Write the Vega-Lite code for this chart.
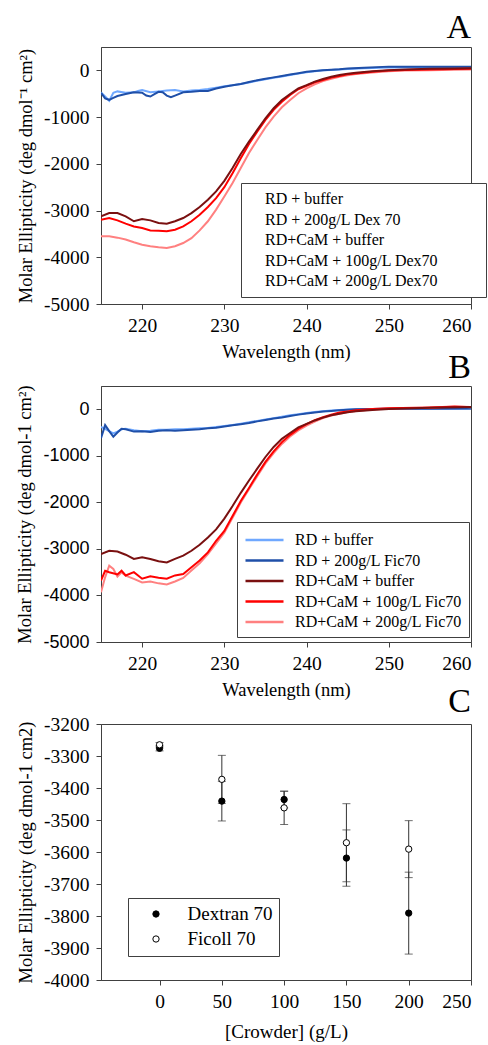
{
  "$schema": "https://vega.github.io/schema/vega-lite/v6.json",
  "background": "white",
  "padding": {"left": 15, "top": 10, "right": 5, "bottom": 2},
  "spacing": 82,
  "bounds": "flush",
  "resolve": {"scale": {"color": "independent", "fill": "independent"}, "legend": {"color": "independent", "fill": "independent"}},
  "config": {
    "view": {"stroke": "#404040", "strokeWidth": 1},
    "font": "Liberation Serif",
    "axis": {"grid": false, "domainColor": "#404040", "tickColor": "#404040", "tickSize": 5, "labelFont": "Liberation Serif", "labelFontSize": 19.5, "labelColor": "#000", "titleFont": "Liberation Serif", "titleFontSize": 18.5, "titleFontWeight": "normal", "titleColor": "#000", "labelPadding": 7, "titlePadding": 8},
    "legend": {"labelFont": "Liberation Serif", "labelColor": "#000", "strokeColor": "#404040", "fillColor": "white", "labelLimit": 500},
    "title": {"font": "Liberation Serif", "fontSize": 34, "fontWeight": "normal", "color": "#000", "anchor": "end", "frame": "group", "offset": 4}
  },
  "datasets": {
    "A": [
      {"w":215,"v":-470,"s":"RD + buffer"},{"w":215.5,"v":-560,"s":"RD + buffer"},{"w":216,"v":-650,"s":"RD + buffer"},{"w":216.5,"v":-480,"s":"RD + buffer"},{"w":217,"v":-450,"s":"RD + buffer"},{"w":218,"v":-480,"s":"RD + buffer"},{"w":219,"v":-470,"s":"RD + buffer"},{"w":219.5,"v":-440,"s":"RD + buffer"},{"w":220,"v":-420,"s":"RD + buffer"},{"w":221,"v":-470,"s":"RD + buffer"},{"w":222,"v":-450,"s":"RD + buffer"},{"w":223,"v":-430,"s":"RD + buffer"},{"w":224,"v":-420,"s":"RD + buffer"},{"w":225,"v":-450,"s":"RD + buffer"},{"w":226,"v":-430,"s":"RD + buffer"},{"w":227,"v":-420,"s":"RD + buffer"},{"w":228,"v":-400,"s":"RD + buffer"},{"w":229,"v":-370,"s":"RD + buffer"},{"w":230,"v":-340,"s":"RD + buffer"},{"w":231,"v":-320,"s":"RD + buffer"},{"w":232,"v":-290,"s":"RD + buffer"},{"w":233,"v":-260,"s":"RD + buffer"},{"w":234,"v":-220,"s":"RD + buffer"},{"w":235,"v":-190,"s":"RD + buffer"},{"w":236,"v":-160,"s":"RD + buffer"},{"w":237,"v":-130,"s":"RD + buffer"},{"w":238,"v":-100,"s":"RD + buffer"},{"w":239,"v":-70,"s":"RD + buffer"},{"w":240,"v":-40,"s":"RD + buffer"},{"w":241,"v":-20,"s":"RD + buffer"},{"w":242,"v":0,"s":"RD + buffer"},{"w":243,"v":10,"s":"RD + buffer"},{"w":244,"v":20,"s":"RD + buffer"},{"w":245,"v":30,"s":"RD + buffer"},{"w":247,"v":45,"s":"RD + buffer"},{"w":250,"v":60,"s":"RD + buffer"},{"w":252,"v":65,"s":"RD + buffer"},{"w":255,"v":60,"s":"RD + buffer"},{"w":258,"v":55,"s":"RD + buffer"},{"w":260,"v":50,"s":"RD + buffer"},
      {"w":215,"v":-480,"s":"RD + 200g/L Dex 70"},{"w":215.5,"v":-600,"s":"RD + 200g/L Dex 70"},{"w":216,"v":-630,"s":"RD + 200g/L Dex 70"},{"w":216.5,"v":-590,"s":"RD + 200g/L Dex 70"},{"w":217,"v":-550,"s":"RD + 200g/L Dex 70"},{"w":218,"v":-505,"s":"RD + 200g/L Dex 70"},{"w":219,"v":-470,"s":"RD + 200g/L Dex 70"},{"w":220,"v":-480,"s":"RD + 200g/L Dex 70"},{"w":220.5,"v":-540,"s":"RD + 200g/L Dex 70"},{"w":221,"v":-560,"s":"RD + 200g/L Dex 70"},{"w":221.5,"v":-510,"s":"RD + 200g/L Dex 70"},{"w":222,"v":-460,"s":"RD + 200g/L Dex 70"},{"w":222.5,"v":-470,"s":"RD + 200g/L Dex 70"},{"w":223,"v":-540,"s":"RD + 200g/L Dex 70"},{"w":223.5,"v":-575,"s":"RD + 200g/L Dex 70"},{"w":224,"v":-540,"s":"RD + 200g/L Dex 70"},{"w":225,"v":-470,"s":"RD + 200g/L Dex 70"},{"w":226,"v":-460,"s":"RD + 200g/L Dex 70"},{"w":227,"v":-440,"s":"RD + 200g/L Dex 70"},{"w":228,"v":-440,"s":"RD + 200g/L Dex 70"},{"w":229,"v":-390,"s":"RD + 200g/L Dex 70"},{"w":230,"v":-350,"s":"RD + 200g/L Dex 70"},{"w":231,"v":-320,"s":"RD + 200g/L Dex 70"},{"w":232,"v":-290,"s":"RD + 200g/L Dex 70"},{"w":233,"v":-250,"s":"RD + 200g/L Dex 70"},{"w":234,"v":-210,"s":"RD + 200g/L Dex 70"},{"w":235,"v":-180,"s":"RD + 200g/L Dex 70"},{"w":236,"v":-150,"s":"RD + 200g/L Dex 70"},{"w":237,"v":-120,"s":"RD + 200g/L Dex 70"},{"w":238,"v":-90,"s":"RD + 200g/L Dex 70"},{"w":239,"v":-60,"s":"RD + 200g/L Dex 70"},{"w":240,"v":-30,"s":"RD + 200g/L Dex 70"},{"w":241,"v":-15,"s":"RD + 200g/L Dex 70"},{"w":242,"v":0,"s":"RD + 200g/L Dex 70"},{"w":243,"v":15,"s":"RD + 200g/L Dex 70"},{"w":244,"v":25,"s":"RD + 200g/L Dex 70"},{"w":245,"v":40,"s":"RD + 200g/L Dex 70"},{"w":247,"v":55,"s":"RD + 200g/L Dex 70"},{"w":250,"v":80,"s":"RD + 200g/L Dex 70"},{"w":252,"v":80,"s":"RD + 200g/L Dex 70"},{"w":255,"v":75,"s":"RD + 200g/L Dex 70"},{"w":258,"v":75,"s":"RD + 200g/L Dex 70"},{"w":260,"v":75,"s":"RD + 200g/L Dex 70"},
      {"w":215,"v":-3550,"s":"RD+CaM + 200g/L Dex70"},{"w":216,"v":-3550,"s":"RD+CaM + 200g/L Dex70"},{"w":217,"v":-3580,"s":"RD+CaM + 200g/L Dex70"},{"w":218,"v":-3620,"s":"RD+CaM + 200g/L Dex70"},{"w":219,"v":-3680,"s":"RD+CaM + 200g/L Dex70"},{"w":220,"v":-3730,"s":"RD+CaM + 200g/L Dex70"},{"w":221,"v":-3765,"s":"RD+CaM + 200g/L Dex70"},{"w":222,"v":-3785,"s":"RD+CaM + 200g/L Dex70"},{"w":223,"v":-3800,"s":"RD+CaM + 200g/L Dex70"},{"w":224,"v":-3765,"s":"RD+CaM + 200g/L Dex70"},{"w":225,"v":-3695,"s":"RD+CaM + 200g/L Dex70"},{"w":226,"v":-3590,"s":"RD+CaM + 200g/L Dex70"},{"w":227,"v":-3425,"s":"RD+CaM + 200g/L Dex70"},{"w":228,"v":-3230,"s":"RD+CaM + 200g/L Dex70"},{"w":229,"v":-2980,"s":"RD+CaM + 200g/L Dex70"},{"w":230,"v":-2700,"s":"RD+CaM + 200g/L Dex70"},{"w":231,"v":-2410,"s":"RD+CaM + 200g/L Dex70"},{"w":232,"v":-2090,"s":"RD+CaM + 200g/L Dex70"},{"w":233,"v":-1770,"s":"RD+CaM + 200g/L Dex70"},{"w":234,"v":-1490,"s":"RD+CaM + 200g/L Dex70"},{"w":235,"v":-1220,"s":"RD+CaM + 200g/L Dex70"},{"w":236,"v":-990,"s":"RD+CaM + 200g/L Dex70"},{"w":237,"v":-790,"s":"RD+CaM + 200g/L Dex70"},{"w":238,"v":-635,"s":"RD+CaM + 200g/L Dex70"},{"w":239,"v":-490,"s":"RD+CaM + 200g/L Dex70"},{"w":240,"v":-385,"s":"RD+CaM + 200g/L Dex70"},{"w":241,"v":-300,"s":"RD+CaM + 200g/L Dex70"},{"w":242,"v":-230,"s":"RD+CaM + 200g/L Dex70"},{"w":243,"v":-180,"s":"RD+CaM + 200g/L Dex70"},{"w":244,"v":-135,"s":"RD+CaM + 200g/L Dex70"},{"w":245,"v":-105,"s":"RD+CaM + 200g/L Dex70"},{"w":246,"v":-80,"s":"RD+CaM + 200g/L Dex70"},{"w":248,"v":-45,"s":"RD+CaM + 200g/L Dex70"},{"w":250,"v":-20,"s":"RD+CaM + 200g/L Dex70"},{"w":252,"v":-5,"s":"RD+CaM + 200g/L Dex70"},{"w":255,"v":5,"s":"RD+CaM + 200g/L Dex70"},{"w":258,"v":15,"s":"RD+CaM + 200g/L Dex70"},{"w":260,"v":20,"s":"RD+CaM + 200g/L Dex70"},
      {"w":215,"v":-3195,"s":"RD+CaM + 100g/L Dex70"},{"w":216,"v":-3160,"s":"RD+CaM + 100g/L Dex70"},{"w":217,"v":-3210,"s":"RD+CaM + 100g/L Dex70"},{"w":218,"v":-3280,"s":"RD+CaM + 100g/L Dex70"},{"w":219,"v":-3340,"s":"RD+CaM + 100g/L Dex70"},{"w":220,"v":-3375,"s":"RD+CaM + 100g/L Dex70"},{"w":221,"v":-3425,"s":"RD+CaM + 100g/L Dex70"},{"w":222,"v":-3430,"s":"RD+CaM + 100g/L Dex70"},{"w":223,"v":-3445,"s":"RD+CaM + 100g/L Dex70"},{"w":224,"v":-3410,"s":"RD+CaM + 100g/L Dex70"},{"w":225,"v":-3340,"s":"RD+CaM + 100g/L Dex70"},{"w":226,"v":-3230,"s":"RD+CaM + 100g/L Dex70"},{"w":227,"v":-3090,"s":"RD+CaM + 100g/L Dex70"},{"w":228,"v":-2925,"s":"RD+CaM + 100g/L Dex70"},{"w":229,"v":-2735,"s":"RD+CaM + 100g/L Dex70"},{"w":230,"v":-2500,"s":"RD+CaM + 100g/L Dex70"},{"w":231,"v":-2200,"s":"RD+CaM + 100g/L Dex70"},{"w":232,"v":-1880,"s":"RD+CaM + 100g/L Dex70"},{"w":233,"v":-1575,"s":"RD+CaM + 100g/L Dex70"},{"w":234,"v":-1310,"s":"RD+CaM + 100g/L Dex70"},{"w":235,"v":-1060,"s":"RD+CaM + 100g/L Dex70"},{"w":236,"v":-845,"s":"RD+CaM + 100g/L Dex70"},{"w":237,"v":-670,"s":"RD+CaM + 100g/L Dex70"},{"w":238,"v":-525,"s":"RD+CaM + 100g/L Dex70"},{"w":239,"v":-405,"s":"RD+CaM + 100g/L Dex70"},{"w":240,"v":-330,"s":"RD+CaM + 100g/L Dex70"},{"w":241,"v":-255,"s":"RD+CaM + 100g/L Dex70"},{"w":242,"v":-205,"s":"RD+CaM + 100g/L Dex70"},{"w":243,"v":-155,"s":"RD+CaM + 100g/L Dex70"},{"w":244,"v":-120,"s":"RD+CaM + 100g/L Dex70"},{"w":245,"v":-85,"s":"RD+CaM + 100g/L Dex70"},{"w":246,"v":-65,"s":"RD+CaM + 100g/L Dex70"},{"w":248,"v":-30,"s":"RD+CaM + 100g/L Dex70"},{"w":250,"v":-5,"s":"RD+CaM + 100g/L Dex70"},{"w":252,"v":10,"s":"RD+CaM + 100g/L Dex70"},{"w":255,"v":20,"s":"RD+CaM + 100g/L Dex70"},{"w":258,"v":30,"s":"RD+CaM + 100g/L Dex70"},{"w":260,"v":35,"s":"RD+CaM + 100g/L Dex70"},
      {"w":215,"v":-3125,"s":"RD+CaM + buffer"},{"w":216,"v":-3055,"s":"RD+CaM + buffer"},{"w":217,"v":-3055,"s":"RD+CaM + buffer"},{"w":218,"v":-3125,"s":"RD+CaM + buffer"},{"w":219,"v":-3230,"s":"RD+CaM + buffer"},{"w":220,"v":-3180,"s":"RD+CaM + buffer"},{"w":221,"v":-3210,"s":"RD+CaM + buffer"},{"w":222,"v":-3265,"s":"RD+CaM + buffer"},{"w":223,"v":-3280,"s":"RD+CaM + buffer"},{"w":224,"v":-3230,"s":"RD+CaM + buffer"},{"w":225,"v":-3160,"s":"RD+CaM + buffer"},{"w":226,"v":-3055,"s":"RD+CaM + buffer"},{"w":227,"v":-2925,"s":"RD+CaM + buffer"},{"w":228,"v":-2770,"s":"RD+CaM + buffer"},{"w":229,"v":-2590,"s":"RD+CaM + buffer"},{"w":230,"v":-2365,"s":"RD+CaM + buffer"},{"w":231,"v":-2090,"s":"RD+CaM + buffer"},{"w":232,"v":-1790,"s":"RD+CaM + buffer"},{"w":233,"v":-1525,"s":"RD+CaM + buffer"},{"w":234,"v":-1275,"s":"RD+CaM + buffer"},{"w":235,"v":-1025,"s":"RD+CaM + buffer"},{"w":236,"v":-810,"s":"RD+CaM + buffer"},{"w":237,"v":-635,"s":"RD+CaM + buffer"},{"w":238,"v":-505,"s":"RD+CaM + buffer"},{"w":239,"v":-385,"s":"RD+CaM + buffer"},{"w":240,"v":-315,"s":"RD+CaM + buffer"},{"w":241,"v":-240,"s":"RD+CaM + buffer"},{"w":242,"v":-185,"s":"RD+CaM + buffer"},{"w":243,"v":-135,"s":"RD+CaM + buffer"},{"w":244,"v":-100,"s":"RD+CaM + buffer"},{"w":245,"v":-70,"s":"RD+CaM + buffer"},{"w":246,"v":-50,"s":"RD+CaM + buffer"},{"w":248,"v":-20,"s":"RD+CaM + buffer"},{"w":250,"v":5,"s":"RD+CaM + buffer"},{"w":252,"v":20,"s":"RD+CaM + buffer"},{"w":255,"v":35,"s":"RD+CaM + buffer"},{"w":258,"v":40,"s":"RD+CaM + buffer"},{"w":260,"v":45,"s":"RD+CaM + buffer"}
    ],
    "B": [
      {"w":215,"v":-380,"s":"RD + buffer"},{"w":215.5,"v":-420,"s":"RD + buffer"},{"w":216,"v":-470,"s":"RD + buffer"},{"w":216.5,"v":-520,"s":"RD + buffer"},{"w":217,"v":-480,"s":"RD + buffer"},{"w":217.5,"v":-430,"s":"RD + buffer"},{"w":218,"v":-420,"s":"RD + buffer"},{"w":219,"v":-450,"s":"RD + buffer"},{"w":220,"v":-470,"s":"RD + buffer"},{"w":221,"v":-460,"s":"RD + buffer"},{"w":222,"v":-440,"s":"RD + buffer"},{"w":223,"v":-440,"s":"RD + buffer"},{"w":224,"v":-430,"s":"RD + buffer"},{"w":225,"v":-430,"s":"RD + buffer"},{"w":226,"v":-420,"s":"RD + buffer"},{"w":227,"v":-410,"s":"RD + buffer"},{"w":228,"v":-400,"s":"RD + buffer"},{"w":229,"v":-380,"s":"RD + buffer"},{"w":230,"v":-360,"s":"RD + buffer"},{"w":231,"v":-340,"s":"RD + buffer"},{"w":232,"v":-310,"s":"RD + buffer"},{"w":233,"v":-280,"s":"RD + buffer"},{"w":234,"v":-250,"s":"RD + buffer"},{"w":235,"v":-220,"s":"RD + buffer"},{"w":236,"v":-190,"s":"RD + buffer"},{"w":237,"v":-160,"s":"RD + buffer"},{"w":238,"v":-130,"s":"RD + buffer"},{"w":239,"v":-105,"s":"RD + buffer"},{"w":240,"v":-80,"s":"RD + buffer"},{"w":241,"v":-60,"s":"RD + buffer"},{"w":242,"v":-40,"s":"RD + buffer"},{"w":243,"v":-25,"s":"RD + buffer"},{"w":244,"v":-15,"s":"RD + buffer"},{"w":245,"v":-5,"s":"RD + buffer"},{"w":246,"v":0,"s":"RD + buffer"},{"w":248,"v":5,"s":"RD + buffer"},{"w":250,"v":10,"s":"RD + buffer"},{"w":255,"v":10,"s":"RD + buffer"},{"w":260,"v":10,"s":"RD + buffer"},
      {"w":215,"v":-620,"s":"RD + 200g/L Fic70"},{"w":215.5,"v":-340,"s":"RD + 200g/L Fic70"},{"w":216,"v":-470,"s":"RD + 200g/L Fic70"},{"w":216.5,"v":-590,"s":"RD + 200g/L Fic70"},{"w":217,"v":-500,"s":"RD + 200g/L Fic70"},{"w":217.5,"v":-420,"s":"RD + 200g/L Fic70"},{"w":218,"v":-430,"s":"RD + 200g/L Fic70"},{"w":219,"v":-480,"s":"RD + 200g/L Fic70"},{"w":220,"v":-470,"s":"RD + 200g/L Fic70"},{"w":221,"v":-490,"s":"RD + 200g/L Fic70"},{"w":222,"v":-460,"s":"RD + 200g/L Fic70"},{"w":223,"v":-450,"s":"RD + 200g/L Fic70"},{"w":224,"v":-460,"s":"RD + 200g/L Fic70"},{"w":225,"v":-450,"s":"RD + 200g/L Fic70"},{"w":226,"v":-440,"s":"RD + 200g/L Fic70"},{"w":227,"v":-430,"s":"RD + 200g/L Fic70"},{"w":228,"v":-410,"s":"RD + 200g/L Fic70"},{"w":229,"v":-395,"s":"RD + 200g/L Fic70"},{"w":230,"v":-370,"s":"RD + 200g/L Fic70"},{"w":231,"v":-345,"s":"RD + 200g/L Fic70"},{"w":232,"v":-320,"s":"RD + 200g/L Fic70"},{"w":233,"v":-295,"s":"RD + 200g/L Fic70"},{"w":234,"v":-260,"s":"RD + 200g/L Fic70"},{"w":235,"v":-230,"s":"RD + 200g/L Fic70"},{"w":236,"v":-200,"s":"RD + 200g/L Fic70"},{"w":237,"v":-175,"s":"RD + 200g/L Fic70"},{"w":238,"v":-145,"s":"RD + 200g/L Fic70"},{"w":239,"v":-115,"s":"RD + 200g/L Fic70"},{"w":240,"v":-90,"s":"RD + 200g/L Fic70"},{"w":241,"v":-70,"s":"RD + 200g/L Fic70"},{"w":242,"v":-50,"s":"RD + 200g/L Fic70"},{"w":243,"v":-35,"s":"RD + 200g/L Fic70"},{"w":244,"v":-20,"s":"RD + 200g/L Fic70"},{"w":245,"v":-10,"s":"RD + 200g/L Fic70"},{"w":246,"v":0,"s":"RD + 200g/L Fic70"},{"w":248,"v":5,"s":"RD + 200g/L Fic70"},{"w":250,"v":10,"s":"RD + 200g/L Fic70"},{"w":255,"v":10,"s":"RD + 200g/L Fic70"},{"w":260,"v":15,"s":"RD + 200g/L Fic70"},
      {"w":215,"v":-3930,"s":"RD+CaM + 200g/L Fic70"},{"w":215.5,"v":-3610,"s":"RD+CaM + 200g/L Fic70"},{"w":216,"v":-3360,"s":"RD+CaM + 200g/L Fic70"},{"w":216.5,"v":-3430,"s":"RD+CaM + 200g/L Fic70"},{"w":217,"v":-3595,"s":"RD+CaM + 200g/L Fic70"},{"w":217.5,"v":-3505,"s":"RD+CaM + 200g/L Fic70"},{"w":218,"v":-3575,"s":"RD+CaM + 200g/L Fic70"},{"w":219,"v":-3645,"s":"RD+CaM + 200g/L Fic70"},{"w":220,"v":-3720,"s":"RD+CaM + 200g/L Fic70"},{"w":221,"v":-3700,"s":"RD+CaM + 200g/L Fic70"},{"w":222,"v":-3740,"s":"RD+CaM + 200g/L Fic70"},{"w":223,"v":-3765,"s":"RD+CaM + 200g/L Fic70"},{"w":224,"v":-3700,"s":"RD+CaM + 200g/L Fic70"},{"w":225,"v":-3625,"s":"RD+CaM + 200g/L Fic70"},{"w":226,"v":-3465,"s":"RD+CaM + 200g/L Fic70"},{"w":227,"v":-3310,"s":"RD+CaM + 200g/L Fic70"},{"w":228,"v":-3110,"s":"RD+CaM + 200g/L Fic70"},{"w":229,"v":-2880,"s":"RD+CaM + 200g/L Fic70"},{"w":230,"v":-2650,"s":"RD+CaM + 200g/L Fic70"},{"w":231,"v":-2330,"s":"RD+CaM + 200g/L Fic70"},{"w":232,"v":-2005,"s":"RD+CaM + 200g/L Fic70"},{"w":233,"v":-1720,"s":"RD+CaM + 200g/L Fic70"},{"w":234,"v":-1440,"s":"RD+CaM + 200g/L Fic70"},{"w":235,"v":-1165,"s":"RD+CaM + 200g/L Fic70"},{"w":236,"v":-940,"s":"RD+CaM + 200g/L Fic70"},{"w":237,"v":-745,"s":"RD+CaM + 200g/L Fic70"},{"w":238,"v":-585,"s":"RD+CaM + 200g/L Fic70"},{"w":239,"v":-455,"s":"RD+CaM + 200g/L Fic70"},{"w":240,"v":-350,"s":"RD+CaM + 200g/L Fic70"},{"w":241,"v":-265,"s":"RD+CaM + 200g/L Fic70"},{"w":242,"v":-190,"s":"RD+CaM + 200g/L Fic70"},{"w":243,"v":-135,"s":"RD+CaM + 200g/L Fic70"},{"w":244,"v":-95,"s":"RD+CaM + 200g/L Fic70"},{"w":245,"v":-60,"s":"RD+CaM + 200g/L Fic70"},{"w":246,"v":-35,"s":"RD+CaM + 200g/L Fic70"},{"w":248,"v":-5,"s":"RD+CaM + 200g/L Fic70"},{"w":250,"v":15,"s":"RD+CaM + 200g/L Fic70"},{"w":255,"v":35,"s":"RD+CaM + 200g/L Fic70"},{"w":258,"v":65,"s":"RD+CaM + 200g/L Fic70"},{"w":260,"v":45,"s":"RD+CaM + 200g/L Fic70"},
      {"w":215,"v":-3680,"s":"RD+CaM + 100g/L Fic70"},{"w":215.5,"v":-3470,"s":"RD+CaM + 100g/L Fic70"},{"w":216,"v":-3500,"s":"RD+CaM + 100g/L Fic70"},{"w":217,"v":-3550,"s":"RD+CaM + 100g/L Fic70"},{"w":217.5,"v":-3470,"s":"RD+CaM + 100g/L Fic70"},{"w":218,"v":-3570,"s":"RD+CaM + 100g/L Fic70"},{"w":219,"v":-3500,"s":"RD+CaM + 100g/L Fic70"},{"w":220,"v":-3640,"s":"RD+CaM + 100g/L Fic70"},{"w":221,"v":-3590,"s":"RD+CaM + 100g/L Fic70"},{"w":222,"v":-3620,"s":"RD+CaM + 100g/L Fic70"},{"w":223,"v":-3640,"s":"RD+CaM + 100g/L Fic70"},{"w":224,"v":-3570,"s":"RD+CaM + 100g/L Fic70"},{"w":225,"v":-3540,"s":"RD+CaM + 100g/L Fic70"},{"w":226,"v":-3395,"s":"RD+CaM + 100g/L Fic70"},{"w":227,"v":-3250,"s":"RD+CaM + 100g/L Fic70"},{"w":228,"v":-3075,"s":"RD+CaM + 100g/L Fic70"},{"w":229,"v":-2825,"s":"RD+CaM + 100g/L Fic70"},{"w":230,"v":-2615,"s":"RD+CaM + 100g/L Fic70"},{"w":231,"v":-2295,"s":"RD+CaM + 100g/L Fic70"},{"w":232,"v":-1970,"s":"RD+CaM + 100g/L Fic70"},{"w":233,"v":-1690,"s":"RD+CaM + 100g/L Fic70"},{"w":234,"v":-1400,"s":"RD+CaM + 100g/L Fic70"},{"w":235,"v":-1130,"s":"RD+CaM + 100g/L Fic70"},{"w":236,"v":-905,"s":"RD+CaM + 100g/L Fic70"},{"w":237,"v":-705,"s":"RD+CaM + 100g/L Fic70"},{"w":238,"v":-550,"s":"RD+CaM + 100g/L Fic70"},{"w":239,"v":-420,"s":"RD+CaM + 100g/L Fic70"},{"w":240,"v":-320,"s":"RD+CaM + 100g/L Fic70"},{"w":241,"v":-235,"s":"RD+CaM + 100g/L Fic70"},{"w":242,"v":-170,"s":"RD+CaM + 100g/L Fic70"},{"w":243,"v":-115,"s":"RD+CaM + 100g/L Fic70"},{"w":244,"v":-70,"s":"RD+CaM + 100g/L Fic70"},{"w":245,"v":-45,"s":"RD+CaM + 100g/L Fic70"},{"w":246,"v":-20,"s":"RD+CaM + 100g/L Fic70"},{"w":248,"v":5,"s":"RD+CaM + 100g/L Fic70"},{"w":250,"v":20,"s":"RD+CaM + 100g/L Fic70"},{"w":255,"v":40,"s":"RD+CaM + 100g/L Fic70"},{"w":258,"v":55,"s":"RD+CaM + 100g/L Fic70"},{"w":260,"v":50,"s":"RD+CaM + 100g/L Fic70"},
      {"w":215,"v":-3110,"s":"RD+CaM + buffer"},{"w":216,"v":-3040,"s":"RD+CaM + buffer"},{"w":217,"v":-3055,"s":"RD+CaM + buffer"},{"w":218,"v":-3125,"s":"RD+CaM + buffer"},{"w":219,"v":-3215,"s":"RD+CaM + buffer"},{"w":220,"v":-3180,"s":"RD+CaM + buffer"},{"w":221,"v":-3215,"s":"RD+CaM + buffer"},{"w":222,"v":-3265,"s":"RD+CaM + buffer"},{"w":223,"v":-3290,"s":"RD+CaM + buffer"},{"w":224,"v":-3215,"s":"RD+CaM + buffer"},{"w":225,"v":-3145,"s":"RD+CaM + buffer"},{"w":226,"v":-3040,"s":"RD+CaM + buffer"},{"w":227,"v":-2910,"s":"RD+CaM + buffer"},{"w":228,"v":-2755,"s":"RD+CaM + buffer"},{"w":229,"v":-2580,"s":"RD+CaM + buffer"},{"w":230,"v":-2350,"s":"RD+CaM + buffer"},{"w":231,"v":-2080,"s":"RD+CaM + buffer"},{"w":232,"v":-1795,"s":"RD+CaM + buffer"},{"w":233,"v":-1530,"s":"RD+CaM + buffer"},{"w":234,"v":-1275,"s":"RD+CaM + buffer"},{"w":235,"v":-1025,"s":"RD+CaM + buffer"},{"w":236,"v":-810,"s":"RD+CaM + buffer"},{"w":237,"v":-635,"s":"RD+CaM + buffer"},{"w":238,"v":-510,"s":"RD+CaM + buffer"},{"w":239,"v":-390,"s":"RD+CaM + buffer"},{"w":240,"v":-315,"s":"RD+CaM + buffer"},{"w":241,"v":-240,"s":"RD+CaM + buffer"},{"w":242,"v":-180,"s":"RD+CaM + buffer"},{"w":243,"v":-130,"s":"RD+CaM + buffer"},{"w":244,"v":-95,"s":"RD+CaM + buffer"},{"w":245,"v":-65,"s":"RD+CaM + buffer"},{"w":246,"v":-45,"s":"RD+CaM + buffer"},{"w":248,"v":-15,"s":"RD+CaM + buffer"},{"w":250,"v":5,"s":"RD+CaM + buffer"},{"w":255,"v":35,"s":"RD+CaM + buffer"},{"w":260,"v":50,"s":"RD+CaM + buffer"}
    ],
    "C": [
      {"x":0,"s":"Dextran 70","v":-3276,"lo":-3284,"hi":-3268},
      {"x":50,"s":"Dextran 70","v":-3441,"lo":-3503,"hi":-3379},
      {"x":100,"s":"Dextran 70","v":-3436,"lo":-3462,"hi":-3410},
      {"x":150,"s":"Dextran 70","v":-3619,"lo":-3707,"hi":-3531},
      {"x":200,"s":"Dextran 70","v":-3791,"lo":-3919,"hi":-3663},
      {"x":0,"s":"Ficoll 70","v":-3265,"lo":-3272,"hi":-3258},
      {"x":50,"s":"Ficoll 70","v":-3373,"lo":-3448,"hi":-3298},
      {"x":100,"s":"Ficoll 70","v":-3462,"lo":-3514,"hi":-3410},
      {"x":150,"s":"Ficoll 70","v":-3571,"lo":-3693,"hi":-3449},
      {"x":200,"s":"Ficoll 70","v":-3591,"lo":-3680,"hi":-3502}
    ]
  },
  "vconcat": [
    {
      "width": 370, "height": 257,
      "title": {"text": "A", "offset": 2},
      "data": {"name": "A"},
      "mark": {"type": "line", "strokeWidth": 2, "clip": true},
      "encoding": {
        "x": {"field": "w", "type": "quantitative", "scale": {"domain": [215, 260], "nice": false, "zero": false}, "axis": {"values": [220, 230, 240, 250, 260], "title": "Wavelength (nm)"}},
        "y": {"field": "v", "type": "quantitative", "scale": {"domain": [-5000, 500], "nice": false}, "axis": {"values": [0, -1000, -2000, -3000, -4000, -5000], "labelExpr": "'' + datum.value", "title": "Molar Ellipticity (deg dmol⁻¹ cm²)"}},
        "color": {"field": "s", "type": "nominal",
          "scale": {"domain": ["RD + buffer", "RD + 200g/L Dex 70", "RD+CaM + buffer", "RD+CaM + 100g/L Dex70", "RD+CaM + 200g/L Dex70"], "range": ["#6fa8ff", "#1f4fa8", "#7a1010", "#ff0000", "#ff8080"]},
          "legend": {"title": null, "orient": "none", "legendX": 140, "legendY": 136, "symbolType": "M0,0H221", "symbolSize": 4, "symbolOpacity": 0, "symbolStrokeWidth": 1, "symbolOffset": 0, "labelOffset": 0, "labelFontSize": 16, "rowPadding": 4.5, "padding": 8}
        }
      }
    },
    {
      "width": 370, "height": 256,
      "title": {"text": "B", "offset": 0},
      "data": {"name": "B"},
      "mark": {"type": "line", "strokeWidth": 2, "clip": true},
      "encoding": {
        "x": {"field": "w", "type": "quantitative", "scale": {"domain": [215, 260], "nice": false, "zero": false}, "axis": {"values": [220, 230, 240, 250, 260], "title": "Wavelength (nm)"}},
        "y": {"field": "v", "type": "quantitative", "scale": {"domain": [-5000, 500], "nice": false}, "axis": {"values": [0, -1000, -2000, -3000, -4000, -5000], "labelExpr": "'' + datum.value", "labelFont": "Liberation Sans", "labelFontSize": 18, "title": "Molar Ellipticity (deg dmol-1 cm²)"}},
        "color": {"field": "s", "type": "nominal",
          "scale": {"domain": ["RD + buffer", "RD + 200g/L Fic70", "RD+CaM + buffer", "RD+CaM + 100g/L Fic70", "RD+CaM + 200g/L Fic70"], "range": ["#6fa8ff", "#1f4fa8", "#7a1010", "#ff0000", "#ff8080"]},
          "legend": {"title": null, "orient": "none", "legendX": 136, "legendY": 136, "symbolType": "M-1,0H3", "symbolSize": 361, "symbolStrokeWidth": 2.5, "symbolOffset": 0, "labelOffset": 29, "labelFontSize": 16, "rowPadding": 1.5, "padding": 7}
        }
      }
    },
    {
      "width": 370, "height": 256,
      "title": {"text": "C", "offset": -5},
      "data": {"name": "C"},
      "layer": [
        {"mark": {"type": "rule", "color": "#333333", "strokeWidth": 1},
         "encoding": {"x": {"field": "x", "type": "quantitative"}, "y": {"field": "lo", "type": "quantitative"}, "y2": {"field": "hi"}}},
        {"mark": {"type": "tick", "orient": "horizontal", "size": 8, "thickness": 1, "color": "#333333"},
         "encoding": {"x": {"field": "x", "type": "quantitative"}, "y": {"field": "lo", "type": "quantitative"}}},
        {"mark": {"type": "tick", "orient": "horizontal", "size": 8, "thickness": 1, "color": "#333333"},
         "encoding": {"x": {"field": "x", "type": "quantitative"}, "y": {"field": "hi", "type": "quantitative"}}},
        {"mark": {"type": "point", "shape": "circle", "filled": true, "size": 40, "stroke": "#000", "strokeWidth": 1, "opacity": 1},
         "encoding": {
           "x": {"field": "x", "type": "quantitative"},
           "y": {"field": "v", "type": "quantitative"},
           "fill": {"field": "s", "type": "nominal", "scale": {"domain": ["Dextran 70", "Ficoll 70"], "range": ["#000000", "#ffffff"]},
             "legend": {"title": null, "orient": "none", "legendX": 27, "legendY": 174, "symbolType": "circle", "symbolSize": 40, "symbolStrokeColor": "#000", "symbolStrokeWidth": 1, "symbolOffset": 12, "labelOffset": 22, "labelFontSize": 19, "rowPadding": 5, "padding": 6.5}}
         }}
      ],
      "encoding": {
        "x": {"field": "x", "type": "quantitative", "scale": {"domain": [-47, 250], "nice": false, "zero": false}, "axis": {"values": [0, 50, 100, 150, 200, 250], "title": "[Crowder] (g/L)", "titleFontSize": 19, "titlePadding": 12}},
        "y": {"field": "v", "type": "quantitative", "scale": {"domain": [-4000, -3200], "nice": false, "zero": false}, "axis": {"values": [-3200, -3300, -3400, -3500, -3600, -3700, -3800, -3900, -4000], "labelExpr": "'' + datum.value", "title": "Molar Ellipticity (deg dmol-1 cm2)"}}
      }
    }
  ]
}
